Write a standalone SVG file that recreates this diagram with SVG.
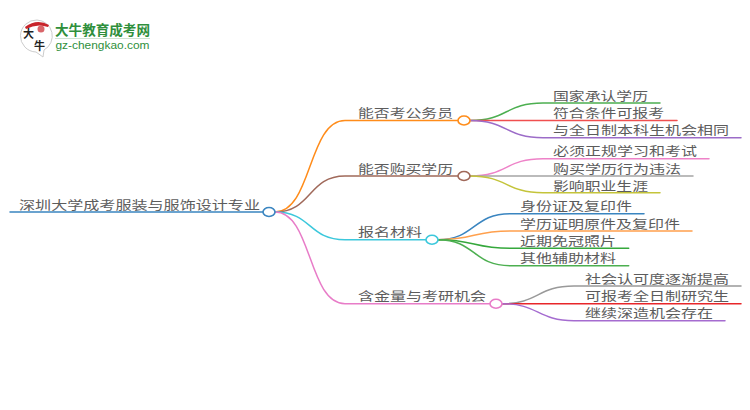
<svg xmlns="http://www.w3.org/2000/svg" width="750" height="410" viewBox="0 0 750 410">
<style>
text{font-family:"Noto Sans CJK SC","Liberation Sans",sans-serif;font-size:12.500px;fill:#5c5c5c}
.l{fill:none;stroke-width:1.5;stroke-linecap:round}
ellipse{fill:#fff;stroke-width:1.6}
</style>
<rect width="750" height="410" fill="#fff"/>
<g id="logo">
<path d="M37 20a16 16 0 0 1 7 30l-1 7-7-5a16 16 0 1 1 1-32z" fill="#fff" stroke="#ccc" stroke-width="1"/>
<path d="M25 27q12-9 24-2l-1 2q-11-4-22 2z" fill="#c8242b"/>
<circle cx="41" cy="29" r="3.500" fill="#d9666a"/>
<text x="23" y="38" style="font-size:11px;fill:#222;font-weight:700">大</text>
<text x="34" y="50" style="font-size:11px;fill:#222;font-weight:700">牛</text>
<text x="55" y="35" textLength="95" lengthAdjust="spacingAndGlyphs" style="font-size:13.500px;fill:#2f8f3c;font-weight:700">大牛教育成考网</text>
<rect x="55" y="38" width="95" height="1" fill="#cfe3d2"/>
<text x="55.500" y="49" textLength="94" lengthAdjust="spacingAndGlyphs" style="font-size:11.500px;fill:#2f8f3c;font-family:'Liberation Sans',sans-serif">gz-chengkao.com</text>
</g>
<g id="connectors">
<path class="l" style="stroke:#3a85c0" d="M10 212H263"/>
<path class="l" style="stroke:#ff8c1a" d="M275 212C312 212 308 120.500 345 120.500H458"/>
<path class="l" style="stroke:#a0695a" d="M275 212C312 212 308 176 345 176H458"/>
<path class="l" style="stroke:#3cc8dc" d="M275 212C312 212 308 239.700 345 239.700H426"/>
<path class="l" style="stroke:#e87cc8" d="M275 212C312 212 308 303.700 345 303.700H490"/>
<path class="l" style="stroke:#4caf50" d="M470 120.500C508 120.500 505 103 543 103H660"/>
<path class="l" style="stroke:#f04f4f" d="M470 120.500H677"/>
<path class="l" style="stroke:#9c6cc8" d="M470 120.500C508 120.500 505 137.700 543 137.700H741"/>
<path class="l" style="stroke:#ee82c8" d="M470 176C508 176 505 158.700 543 158.700H709"/>
<path class="l" style="stroke:#a5a5a5" d="M470 176H693"/>
<path class="l" style="stroke:#c4c43a" d="M470 176C508 176 505 192.700 543 192.700H660"/>
<path class="l" style="stroke:#3a85c0" d="M438 239.700C475 239.700 473 213.700 510 213.700H644"/>
<path class="l" style="stroke:#ffa04d" d="M438 239.700C475 239.700 473 231 510 231H692"/>
<path class="l" style="stroke:#35a83c" d="M438 239.700C475 239.700 473 248.300 510 248.300H628.700"/>
<path class="l" style="stroke:#4caf50" d="M438 239.700C475 239.700 473 265.700 510 265.700H628.700"/>
<path class="l" style="stroke:#999" d="M502 303.700C539 303.700 537 286 574 286H741"/>
<path class="l" style="stroke:#e8262a" d="M502 303.700H741"/>
<path class="l" style="stroke:#a56cd0" d="M502 303.700C539 303.700 537 320.700 574 320.700H725"/>
</g>
<g id="root"><ellipse cx="269" cy="212" rx="6" ry="4.500" stroke="#3a85c0"/><text x="19" y="210" textLength="241" lengthAdjust="spacingAndGlyphs">深圳大学成考服装与服饰设计专业</text></g>
<g id="n1"><ellipse cx="464" cy="120.500" rx="6" ry="4.500" stroke="#ff8c1a"/><text x="358" y="118" textLength="95" lengthAdjust="spacingAndGlyphs">能否考公务员</text></g>
<g id="n2"><ellipse cx="464" cy="176" rx="6" ry="4.500" stroke="#a0695a"/><text x="358" y="173.500" textLength="95" lengthAdjust="spacingAndGlyphs">能否购买学历</text></g>
<g id="n3"><ellipse cx="432" cy="239.700" rx="6" ry="4.500" stroke="#3cc8dc"/><text x="358" y="237" textLength="64" lengthAdjust="spacingAndGlyphs">报名材料</text></g>
<g id="n4"><ellipse cx="496" cy="303.700" rx="6" ry="4.500" stroke="#e87cc8"/><text x="358" y="301" textLength="128" lengthAdjust="spacingAndGlyphs">含金量与考研机会</text></g>
<g id="n1a"><text x="553" y="100.500" textLength="95" lengthAdjust="spacingAndGlyphs">国家承认学历</text></g>
<g id="n1b"><text x="553" y="118" textLength="111" lengthAdjust="spacingAndGlyphs">符合条件可报考</text></g>
<g id="n1c"><text x="553" y="135.300" textLength="176" lengthAdjust="spacingAndGlyphs">与全日制本科生机会相同</text></g>
<g id="n2a"><text x="553" y="156" textLength="144" lengthAdjust="spacingAndGlyphs">必须正规学习和考试</text></g>
<g id="n2b"><text x="553" y="173.500" textLength="128" lengthAdjust="spacingAndGlyphs">购买学历行为违法</text></g>
<g id="n2c"><text x="553" y="190.800" textLength="95" lengthAdjust="spacingAndGlyphs">影响职业生涯</text></g>
<g id="n3a"><text x="520" y="211" textLength="112" lengthAdjust="spacingAndGlyphs">身份证及复印件</text></g>
<g id="n3b"><text x="520" y="228.500" textLength="160" lengthAdjust="spacingAndGlyphs">学历证明原件及复印件</text></g>
<g id="n3c"><text x="520" y="246" textLength="96" lengthAdjust="spacingAndGlyphs">近期免冠照片</text></g>
<g id="n3d"><text x="520" y="263.300" textLength="96" lengthAdjust="spacingAndGlyphs">其他辅助材料</text></g>
<g id="n4a"><text x="585" y="283.500" textLength="144" lengthAdjust="spacingAndGlyphs">社会认可度逐渐提高</text></g>
<g id="n4b"><text x="585" y="301" textLength="144" lengthAdjust="spacingAndGlyphs">可报考全日制研究生</text></g>
<g id="n4c"><text x="585" y="318.300" textLength="128" lengthAdjust="spacingAndGlyphs">继续深造机会存在</text></g>
</svg>
